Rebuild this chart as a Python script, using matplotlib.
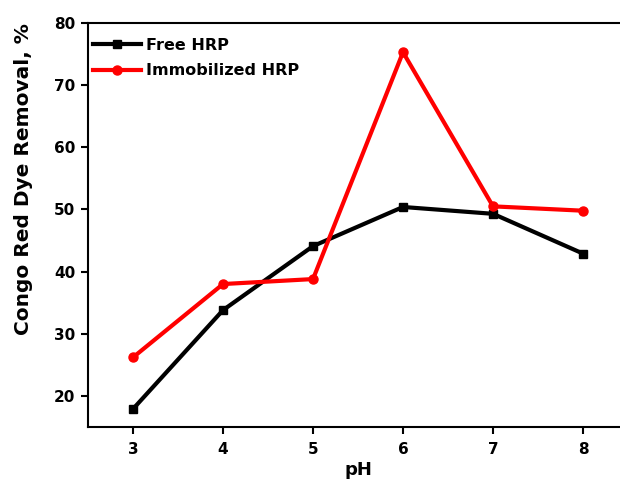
import matplotlib
matplotlib.use('Agg')
import matplotlib.pyplot as plt

ph = [3, 4, 5, 6, 7, 8]
free_hrp = [17.9, 33.8, 44.1, 50.4, 49.3, 42.9]
immob_hrp = [26.2, 38.0, 38.8, 75.3, 50.5, 49.8]

plt.rcParams['font.family'] = 'DejaVu Sans'
plt.rcParams['font.weight'] = 'bold'

fig = plt.figure(figsize=(6.2, 4.84), dpi=100)
ax = fig.add_axes([88/620, 1 - 427/484, (628 - 88)/620, (427 - 23)/484])

ax.plot(ph, free_hrp, color='black', lw=3, marker='s', ms=5.5, label='Free HRP')
ax.plot(ph, immob_hrp, color='red', lw=3, marker='o', ms=6.5, label='Immobilized HRP')

ax.set_xlim(2.5, 8.5)
ax.set_ylim(15, 80)
ax.set_xticks(ph)
ax.set_yticks([20, 30, 40, 50, 60, 70, 80])
ax.tick_params(direction='out', length=5, width=1.5, labelsize=11)
ax.tick_params(axis='x', pad=6)
ax.tick_params(axis='y', pad=4)
for lab in ax.get_xticklabels() + ax.get_yticklabels():
    lab.set_fontweight('bold')
ax.spines['right'].set_visible(False)
for s in ['left', 'bottom', 'top']:
    ax.spines[s].set_linewidth(1.5)

ax.set_xlabel('pH', fontsize=13, fontweight='bold')
ax.set_ylabel('Congo Red Dye Removal, %', fontsize=14.5, fontweight='bold')
ax.xaxis.set_label_coords(0.5, -0.085)
ax.yaxis.set_label_coords(-0.102, 0.614)

ax.legend(loc='upper left', bbox_to_anchor=(0, 1 - 10/404), frameon=False,
          handlelength=3.0, handletextpad=0.3, borderaxespad=0, borderpad=0.3,
          labelspacing=0.65, prop={'weight': 'bold', 'size': 11.5})

fig.savefig('out.png', dpi=100)
